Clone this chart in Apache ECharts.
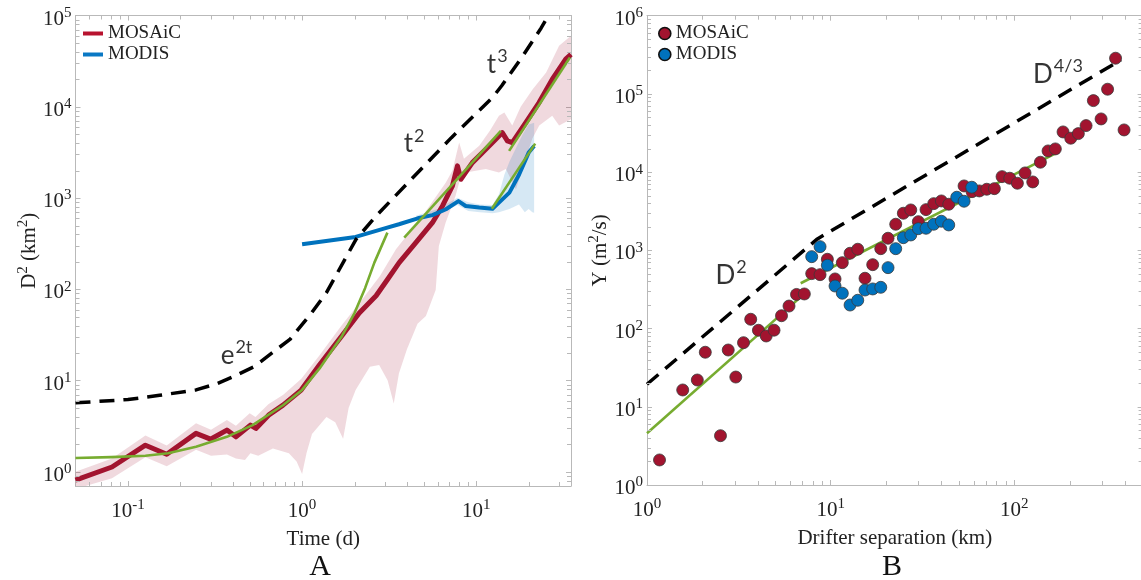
<!DOCTYPE html>
<html>
<head>
<meta charset="utf-8">
<script src="https://cdn.jsdelivr.net/npm/echarts@6/dist/echarts.min.js"></script>
<style>
html,body{margin:0;padding:0;background:#fff;}
#c{width:1141px;height:580px;}
</style>
</head>
<body>
<div id="c"></div>
<script>
// ---------------- DATA ----------------
// Panel A: time (d) vs D^2 (km^2)
const mosaicCurve = [[0.05,0.81],[0.081,1.13],[0.126,1.96],[0.167,1.56],[0.246,2.64],[0.298,2.28],[0.37,2.87],[0.417,2.42],[0.505,3.25],[0.543,2.99],[0.642,4.18],[0.777,5.39],[0.988,7.87],[1.257,14.8],[1.676,30.2],[2.13,55],[2.66,85],[3.1,129],[3.61,196],[4.5,324],[5.6,537],[6.4,819],[7.3,1358],[7.8,2249],[8.16,1607],[9.5,2444],[11.35,3428],[13.5,4797],[14.1,5213],[15.1,4228],[16.1,4049],[19.25,6713],[22.95,11120],[27.35,20080],[32.65,33260],[35,37500]];
const mosaicBandUpper = [[0.05,1.0],[0.081,1.4],[0.126,2.5],[0.167,1.95],[0.246,3.4],[0.30,2.9],[0.37,3.7],[0.417,3.2],[0.50,4.4],[0.54,4.0],[0.64,5.5],[0.78,7.0],[0.99,10.5],[1.26,19],[1.68,40],[2.24,80],[2.8,140],[3.46,274],[4.91,637],[6.69,1477],[7.3,2000],[7.98,4049],[8.5,2700],[10.4,3750],[12,5500],[13.5,7950],[14.5,8640],[16.1,6240],[18,10000],[21.1,15550],[25.2,23750],[29.9,46700],[35,60000]];
const mosaicBandLower = [[0.05,0.65],[0.081,0.85],[0.126,1.45],[0.167,1.15],[0.246,1.75],[0.30,1.5],[0.37,1.55],[0.417,1.4],[0.47,1.35],[0.505,1.6],[0.56,1.5],[0.68,1.8],[0.84,1.6],[0.93,1.3],[1.0,0.95],[1.06,1.6],[1.14,2.6],[1.38,4.0],[1.55,3.5],[1.72,2.3],[1.85,5],[2.03,7.9],[2.45,14.2],[2.77,14.8],[3.1,10],[3.36,5.6],[3.6,12],[4.0,22],[4.6,42],[5.14,51],[5.85,98],[6.1,299],[6.67,537],[7.6,1050],[8.0,1500],[8.7,1900],[11.35,2080],[13.5,1900],[14.8,2080],[16.9,1250],[19,2500],[21,4500],[23,6240],[27.3,7950],[29.9,6240],[35,7300]];
const modisCurve = [[1.0,311],[2.03,375],[2.98,466],[3.6,516],[4.62,600],[5.6,650],[6.7,754],[7.9,925],[8.7,819],[10.4,787],[12.4,764],[13.5,890],[15.5,1146],[17.6,1800],[20.0,3148],[21.5,3727]];
const modisBandUpper = [[4.5,640],[6,760],[7.8,1010],[9,900],[10.5,850],[12.4,840],[13.5,1100],[14.5,1800],[15.5,2500],[17,3600],[18.5,5000],[20,6400],[21.5,6700]];
const modisBandLower = [[4.5,560],[6,660],[7.8,840],[9,720],[10.5,700],[12.4,680],[13.5,700],[15.5,760],[17.6,850],[19,700],[20,760],[21,700],[21.5,690]];
const fitExpA = [[0.05,1.42],[0.08,1.45],[0.126,1.5],[0.17,1.6],[0.246,1.88],[0.37,2.42],[0.52,3.25],[0.78,5.4],[1.0,7.9],[1.26,13.6],[1.45,20],[1.68,30],[2.0,55],[2.3,103],[2.6,196],[3.09,418]];
const fitMidA = [[3.86,368],[13.84,5445]];
const fitLateA = [[15.44,3284],[34.5,34630]];
const fitModisA = [[12.29,765],[21.8,3948]];
const refCurveA = [[0.05,5.7],[0.1,6.2],[0.152,6.9],[0.246,7.9],[0.327,9.3],[0.397,10.9],[0.53,14.2],[0.855,28.5],[1.14,56],[1.38,92],[2.04,353],[2.66,637],[7.2,4590],[12.4,12600],[14,17000],[18.5,36000],[23.6,73000],[26,100000]];

// Panel B: drifter separation (km) vs Y (m^2/s)
const mosaicSep = [1.17,1.565,1.879,2.077,2.513,2.769,3.045,3.354,3.671,4.044,4.459,4.918,5.402,5.934,6.521,7.192,7.889,8.757,9.60,10.57,11.58,12.76,14.05,15.39,16.95,18.75,20.54,22.62,24.89,27.32,30.04,33.08,36.43,40.09,43.98,53.30,58.91,64.55,70.83,77.93,85.83,94.52,104.0,114.5,126.1,138.8,152.8,167.4,184.4,203.1,223.4,246.1,269.7,297.1,322.3,356.2,396.3];
const mosaicDiff = [2.09,16.4,22.0,49.8,4.27,53.2,24.0,66.0,131.5,95.1,80.4,95.4,146,194,273,277,504,489,769,431,696,918,1033,440,656,1051,1428,2157,2981,3286,2328,3316,3956,4282,3886,6661,5631,5749,6043,6152,8760,8356,7211,9767,7494,13385,18665,19810,32660,27140,31080,39320,82100,47890,114800,286000,34640];
const modisSep = [7.889,8.757,9.60,10.57,11.58,12.76,14.05,15.39,16.95,18.75,20.54,22.62,24.89,27.32,30.04,33.08,36.43,40.09,43.98,48.63,53.30,58.68];
const modisDiff = [831,1115,645,350,283,200,230,311,321,337,601,1051,1453,1573,1894,1917,2157,2356,2113,4775,4245,6412];
const refCurveB = [[1,19.4],[8.47,1400],[381.6,272000]];
const fitSmallB = [[1,4.58],[7.31,288]];
const fitLargeB = [[6.87,380],[175.4,18290]];

// tick labels (powers of ten) and minor tick multipliers
const tickExpA_x = [-1,0,1], tickExpA_y = [0,1,2,3,4,5];
const tickExpB_x = [0,1,2], tickExpB_y = [0,1,2,3,4,5,6];
const minorMult = [2,3,4,5,6,7,8,9];

// annotations (data-space anchors)
const notesA = [{txt:'{m|e}{p|2t}', at:[0.42,20.5]},{txt:'{m|t}{p|2}', at:[4.4,4300]},{txt:'{m|t}{p|3}', at:[13.2,32000]}];
const notesB = [{txt:'{m|D}{p|2}', at:[2.87,529]},{txt:'{m|D}{p|4/3}', at:[173,197000]}];

// ---------------- STYLE ----------------
const SERIF = '"Liberation Serif","Times New Roman",serif';
const SANS = 'Lato,"Open Sans",sans-serif';
const RED = '#A2142F', BLUE = '#0072BD', GREEN = '#77AC30';
const FRAME = '#b9b9b9', TXT = '#222';
const RA = {x:[0.05,35], y:[0.7,1e5]};
const RB = {x:[1,500], y:[1,1e6]};

const chart = echarts.init(document.getElementById('c'), null, {renderer:'canvas'});

function powLabel(exps){
  return function(v){
    const e = Math.log10(v), r = Math.round(e);
    if (Math.abs(e - r) > 1e-6 || exps.indexOf(r) < 0) return '';
    return '{b|10}{s|' + (r < 0 ? '-' : '') + Math.abs(r) + '}';
  };
}
const tickRich = {
  b:{fontFamily:SERIF,fontSize:21,color:TXT,padding:[7,0,0,0]},
  s:{fontFamily:SERIF,fontSize:15,color:TXT,padding:[0,0,5,0]}
};
const nameRich = {
  n:{fontFamily:SERIF,fontSize:21,color:TXT,padding:[6,0,0,0]},
  s:{fontFamily:SERIF,fontSize:15,color:TXT,padding:[0,0,6,0]}
};
function mkAxis(gi, pos, range, exps, name, gap){
  const show = !!exps;
  const a = {
    type:'log', logBase:10, gridIndex:gi, position:pos, min:range[0], max:range[1],
    axisLine:{show:true, onZero:false, lineStyle:{color:FRAME,width:1}},
    axisTick:{show:true, inside:true, length:5, lineStyle:{color:FRAME,width:1}},
    splitLine:{show:false}, minorTick:{show:false}, minorSplitLine:{show:false},
    axisLabel:{show:show, margin:(pos==='bottom'?8:4), formatter: show ? powLabel(exps) : '', rich:tickRich,
               showMinLabel:true, showMaxLabel:true, hideOverlap:false}
  };
  if (name){
    a.name = name; a.nameLocation='middle'; a.nameGap=gap; a.nameMoveOverlap=false;
    a.nameTextStyle = {rich:nameRich};
  }
  return a;
}

function line(x1,y1,x2,y2){ return {type:'line', shape:{x1:x1,y1:y1,x2:x2,y2:y2}, style:{stroke:FRAME,lineWidth:1}}; }
function minorValues(r){
  const out=[]; const k0=Math.floor(Math.log10(r[0])), k1=Math.ceil(Math.log10(r[1]));
  for(let k=k0;k<=k1;k++) minorMult.forEach(m=>{ const v=m*Math.pow(10,k); if(v>r[0]*1.0001 && v<r[1]*0.9999) out.push(v); });
  return out;
}
function minorTickSeries(xi, yi, R){
  return {type:'custom', xAxisIndex:xi, yAxisIndex:yi, silent:true, z:5, clip:false, data:[[R.x[0]*2,R.y[0]*2]],
    renderItem:function(params, api){
      const cs = params.coordSys, L=4, ch=[];
      const yb = cs.y+cs.height, xr = cs.x+cs.width;
      minorValues(R.x).forEach(v=>{ const x=Math.round(api.coord([v,R.y[0]*2])[0])+0.5; ch.push(line(x,yb,x,yb-L)); ch.push(line(x,cs.y,x,cs.y+L)); });
      minorValues(R.y).forEach(v=>{ const y=Math.round(api.coord([R.x[0]*2,v])[1])+0.5; ch.push(line(cs.x,y,cs.x+L,y)); ch.push(line(xr,y,xr-L,y)); });
      return {type:'group', children:ch};
    }};
}
function bandSeries(xi, yi, upper, lower, fill){
  return {type:'custom', xAxisIndex:xi, yAxisIndex:yi, silent:true, z:1, clip:true, data:[[upper[1][0],upper[1][1]]],
    renderItem:function(params, api){
      const pts = upper.map(p=>api.coord(p)).concat(lower.slice().reverse().map(p=>api.coord(p)));
      return {type:'polygon', shape:{points:pts}, style:{fill:fill}};
    }};
}
function lineSeries(name, xi, yi, data, color, width, z, dash){
  return {type:'line', name:name, xAxisIndex:xi, yAxisIndex:yi, data:data, symbol:'none', smooth:false, z:z, silent:true, clip:true,
    lineStyle:{color:color, width:width, type: dash || 'solid', cap:'butt', join:'round'}};
}
function noteSeries(xi, yi, notes){
  return {type:'scatter', xAxisIndex:xi, yAxisIndex:yi, symbolSize:0, silent:true, z:6,
    data: notes.map(n=>({value:n.at, label:{formatter:n.txt}})),
    label:{show:true, position:'inside', rich:{
      m:{fontFamily:SANS,fontSize:26,color:'#000',padding:[7,0,0,0]},
      p:{fontFamily:SANS,fontSize:18,color:'#000',padding:[0,0,9,1]}}}};
}
function zip(xs, ys){ return xs.map((x,i)=>[x, ys[i]]); }

const option = {
  animation:false,
  backgroundColor:'#fff',
  grid:[
    {left:75.5, top:15.5, width:495.5, height:470.5, containLabel:false, outerBoundsMode:'none'},
    {left:647, top:15.7, width:495.6, height:469.3, containLabel:false, outerBoundsMode:'none'}
  ],
  xAxis:[
    mkAxis(0,'bottom',RA.x,tickExpA_x,'{n|Time (d)}',37),
    mkAxis(0,'top',RA.x,null),
    mkAxis(1,'bottom',RB.x,tickExpB_x,'{n|Drifter separation (km)}',37),
    mkAxis(1,'top',RB.x,null)
  ],
  yAxis:[
    mkAxis(0,'left',RA.y,tickExpA_y,'{n|D}{s|2}{n| (km}{s|2}{n|)}',36),
    mkAxis(0,'right',RA.y,null),
    mkAxis(1,'left',RB.y,tickExpB_y,'{n|Y (m}{s|2}{n|/s)}',36),
    mkAxis(1,'right',RB.y,null)
  ],
  legend:[
    {left:83, top:24, orient:'vertical', padding:0, itemGap:2, itemWidth:20, itemHeight:4, selectedMode:false,
     textStyle:{fontFamily:SERIF,fontSize:19,color:TXT,lineHeight:19},
     data:[{name:'MOSAiC', icon:'rect', itemStyle:{color:'#B8132F', borderWidth:0}},{name:'MODIS', icon:'rect', itemStyle:{color:'#0a78c4', borderWidth:0}}]},
    {left:658, top:24, orient:'vertical', padding:0, itemGap:2, itemWidth:12, itemHeight:12, selectedMode:false,
     textStyle:{fontFamily:SERIF,fontSize:19,color:TXT,lineHeight:19},
     data:[{name:'MOSAiC', icon:'circle', itemStyle:{color:RED, borderColor:'#111', borderWidth:1.6}},{name:'MODIS', icon:'circle', itemStyle:{color:BLUE, borderColor:'#111', borderWidth:1.6}}]}
  ],
  graphic:[
    {type:'text', x:320, y:567, style:{text:'A', font:'30px "Liberation Serif"', fill:'#111', textAlign:'center', textVerticalAlign:'middle'}},
    {type:'text', x:892, y:567, style:{text:'B', font:'30px "Liberation Serif"', fill:'#111', textAlign:'center', textVerticalAlign:'middle'}}
  ],
  series:[
    bandSeries(0,0,mosaicBandUpper,mosaicBandLower,'rgba(162,20,47,0.16)'),
    bandSeries(0,0,modisBandUpper,modisBandLower,'rgba(0,114,189,0.16)'),
    lineSeries('MOSAiC',0,0,mosaicCurve,RED,5,2),
    lineSeries('MODIS',0,0,modisCurve,BLUE,4,2),
    lineSeries('fitA1',0,0,fitExpA,GREEN,2.6,3),
    lineSeries('fitA2',0,0,fitMidA,GREEN,2.6,3),
    lineSeries('fitA3',0,0,fitLateA,GREEN,2.6,3),
    lineSeries('fitA4',0,0,fitModisA,GREEN,2.6,3),
    lineSeries('refA',0,0,refCurveA,'#000',3.5,3,[15,9]),
    noteSeries(0,0,notesA),
    minorTickSeries(0,0,RA),

    lineSeries('fitB1',2,2,fitSmallB,GREEN,2.6,3),
    lineSeries('fitB2',2,2,fitLargeB,GREEN,2.6,3),
    lineSeries('refB',2,2,refCurveB,'#000',3.5,3,[15,9]),
    {type:'scatter', name:'MOSAiC', xAxisIndex:2, yAxisIndex:2, data:zip(mosaicSep,mosaicDiff), symbol:'circle', symbolSize:12, z:4, silent:true,
     itemStyle:{color:RED, borderColor:'#3a3a3a', borderWidth:0.8, opacity:1}},
    {type:'scatter', name:'MODIS', xAxisIndex:2, yAxisIndex:2, data:zip(modisSep,modisDiff), symbol:'circle', symbolSize:12, z:4, silent:true,
     itemStyle:{color:BLUE, borderColor:'#3a3a3a', borderWidth:0.8, opacity:1}},
    noteSeries(2,2,notesB),
    minorTickSeries(2,2,RB)
  ]
};
chart.setOption(option);
</script>
</body>
</html>
